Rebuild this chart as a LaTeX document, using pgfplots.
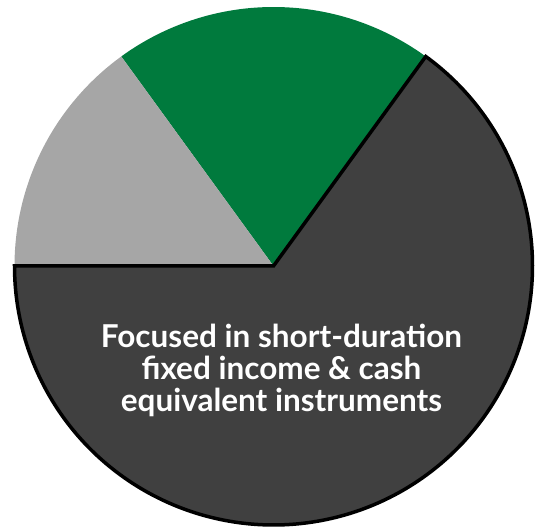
\documentclass[border=0pt]{standalone}
\usepackage{pgfplots}
\pgfplotsset{compat=1.18}
\usepackage{fontspec}
\setmainfont{Lato}

\definecolor{sliceDark}{HTML}{404040}
\definecolor{sliceGreen}{HTML}{007A3D}
\definecolor{sliceGray}{HTML}{A6A6A6}

% portfolio shares in percent, counter-clockwise from 180 degrees
\def\shareDark{65}
\def\shareGreen{20}
\def\shareGray{15}

% pie geometry (axis units)
\def\cx{273.5}
\def\cy{263}
\def\R{259}
\pgfmathsetmacro\aA{180}
\pgfmathsetmacro\aB{\aA+3.6*\shareDark}
\pgfmathsetmacro\aC{\aB+3.6*\shareGreen}
\pgfmathsetmacro\aD{\aC+3.6*\shareGray}

\begin{document}
\begin{tikzpicture}
\begin{axis}[
  scale only axis,
  width=535pt, height=529pt,
  xmin=0, xmax=535, ymin=0, ymax=529,
  hide axis, clip=false,
]
% green slice
\addplot[draw=none, fill=sliceGreen, domain=\aB:\aC, samples=80]
  ({\cx+\R*cos(x)},{\cy+\R*sin(x)}) -- (axis cs:\cx,\cy) -- cycle;
% light grey slice
\addplot[draw=none, fill=sliceGray, domain=\aC:\aD, samples=80]
  ({\cx+\R*cos(x)},{\cy+\R*sin(x)}) -- (axis cs:\cx,\cy) -- cycle;
% dark slice with black outline
\addplot[draw=black, line width=3.5pt, line join=miter, fill=sliceDark, domain=\aA:\aB, samples=240]
  ({\cx+\R*cos(x)},{\cy+\R*sin(x)}) -- (axis cs:\cx,\cy) -- cycle;

% caption inside the dark slice
\node[text=white, inner sep=0pt, anchor=base,
      font=\bfseries\fontsize{31.5}{32}\selectfont]
  at (axis cs:281.5,181) {Focused in short-duration};
\node[text=white, inner sep=0pt, anchor=base,
      font=\bfseries\fontsize{31.5}{32}\selectfont]
  at (axis cs:281.5,149) {fixed income \& cash};
\node[text=white, inner sep=0pt, anchor=base,
      font=\bfseries\fontsize{31.5}{32}\selectfont]
  at (axis cs:281.5,117) {equivalent instruments};
\end{axis}
% keep the full frame as the picture's extent
\path (current axis.south west) rectangle (current axis.north east);
\end{tikzpicture}
\end{document}
